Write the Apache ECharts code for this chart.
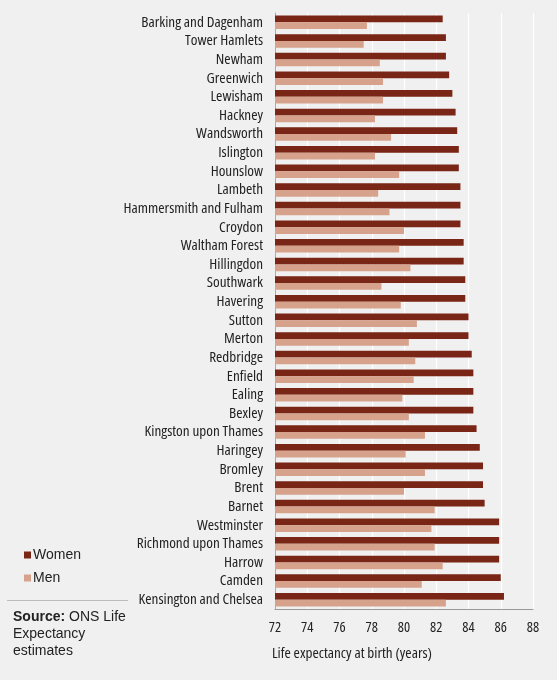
<!DOCTYPE html>
<html>
<head>
<meta charset="utf-8">
<script src="https://cdn.jsdelivr.net/npm/echarts@6/dist/echarts.min.js"></script>
<style>
  html, body { margin: 0; padding: 0; background: #f0f0f0; }
  #chart { width: 557px; height: 680px; }
</style>
</head>
<body>
<div id="chart"></div>
<script>
// boroughs, top to bottom as in the picture
var boroughs = ['Barking and Dagenham', 'Tower Hamlets', 'Newham', 'Greenwich', 'Lewisham',
  'Hackney', 'Wandsworth', 'Islington', 'Hounslow', 'Lambeth', 'Hammersmith and Fulham',
  'Croydon', 'Waltham Forest', 'Hillingdon', 'Southwark', 'Havering', 'Sutton', 'Merton',
  'Redbridge', 'Enfield', 'Ealing', 'Bexley', 'Kingston upon Thames', 'Haringey', 'Bromley',
  'Brent', 'Barnet', 'Westminster', 'Richmond upon Thames', 'Harrow', 'Camden',
  'Kensington and Chelsea'];
var women = [82.4, 82.6, 82.6, 82.8, 83.0, 83.2, 83.3, 83.4, 83.4, 83.5, 83.5,
  83.5, 83.7, 83.7, 83.8, 83.8, 84.0, 84.0, 84.2, 84.3, 84.3, 84.3, 84.5, 84.7, 84.9,
  84.9, 85.0, 85.9, 85.9, 85.9, 86.0, 86.2];
var men = [77.7, 77.5, 78.5, 78.7, 78.7, 78.2, 79.2, 78.2, 79.7, 78.4, 79.1,
  80.0, 79.7, 80.4, 78.6, 79.8, 80.8, 80.3, 80.7, 80.6, 79.9, 80.3, 81.3, 80.1, 81.3,
  80.0, 81.9, 81.7, 81.9, 82.4, 81.1, 82.6];
var xTicks = [72, 88, 2]; // min, max, step

// no narrow Arial here, so use the condensed face of Open Sans
var narrow = '"Open Sans", "Liberation Sans", sans-serif';
var chart = echarts.init(document.getElementById('chart'));
chart.setOption({
  backgroundColor: '#f0f0f0',
  animation: false,
  grid: { left: 275, right: 24, top: 13, bottom: 71 },
  legend: {
    orient: 'vertical',
    left: 19,
    top: 543,
    icon: 'rect',
    itemWidth: 7,
    itemHeight: 7,
    itemGap: 9,
    textStyle: { fontFamily: 'Liberation Sans, Arial, sans-serif', fontSize: 14, color: '#222', padding: [0, 0, 0, -3] },
    data: ['Women', 'Men']
  },
  xAxis: {
    type: 'value',
    min: xTicks[0],
    max: xTicks[1],
    interval: xTicks[2],
    axisLine: { show: true, lineStyle: { color: '#999', width: 1 } },
    axisTick: { show: false },
    splitLine: { show: true, lineStyle: { color: '#ffffff', width: 1.2 } },
    axisLabel: { margin: 11, fontFamily: narrow, fontStyle: 'condensed', fontSize: 14.5, color: '#222' }
  },
  yAxis: {
    type: 'category',
    inverse: true,
    data: boroughs,
    axisLine: { show: true, lineStyle: { color: '#aaa', width: 1 } },
    axisTick: { show: false },
    axisLabel: { margin: 12, fontFamily: narrow, fontStyle: 'condensed', fontSize: 15.2, color: '#222', interval: 0 }
  },
  series: [
    {
      name: 'Women',
      type: 'bar',
      data: women,
      barWidth: 6.7,
      barGap: '0%',
      itemStyle: { color: '#7a2616' }
    },
    {
      name: 'Men',
      type: 'bar',
      data: men,
      barWidth: 6.7,
      itemStyle: { color: '#d6a28c' }
    }
  ],
  graphic: [
    {
      type: 'text', left: 272, top: 646,
      style: { text: 'Life expectancy at birth (years)', font: 'condensed 15.2px ' + narrow, fill: '#222' }
    },
    {
      type: 'line', shape: { x1: 7, y1: 600.5, x2: 128, y2: 600.5 },
      style: { stroke: '#bbb', lineWidth: 1 }
    },
    {
      type: 'text', left: 13, top: 609,
      style: {
        text: '{b|Source:} ONS Life\nExpectancy\nestimates',
        font: '14px Liberation Sans, Arial, sans-serif',
        fill: '#222',
        lineHeight: 17,
        rich: {
          b: { fontWeight: 'bold', fontSize: 14, fontFamily: 'Liberation Sans, Arial, sans-serif', fill: '#222', lineHeight: 17 }
        }
      }
    }
  ]
});
</script>
</body>
</html>
